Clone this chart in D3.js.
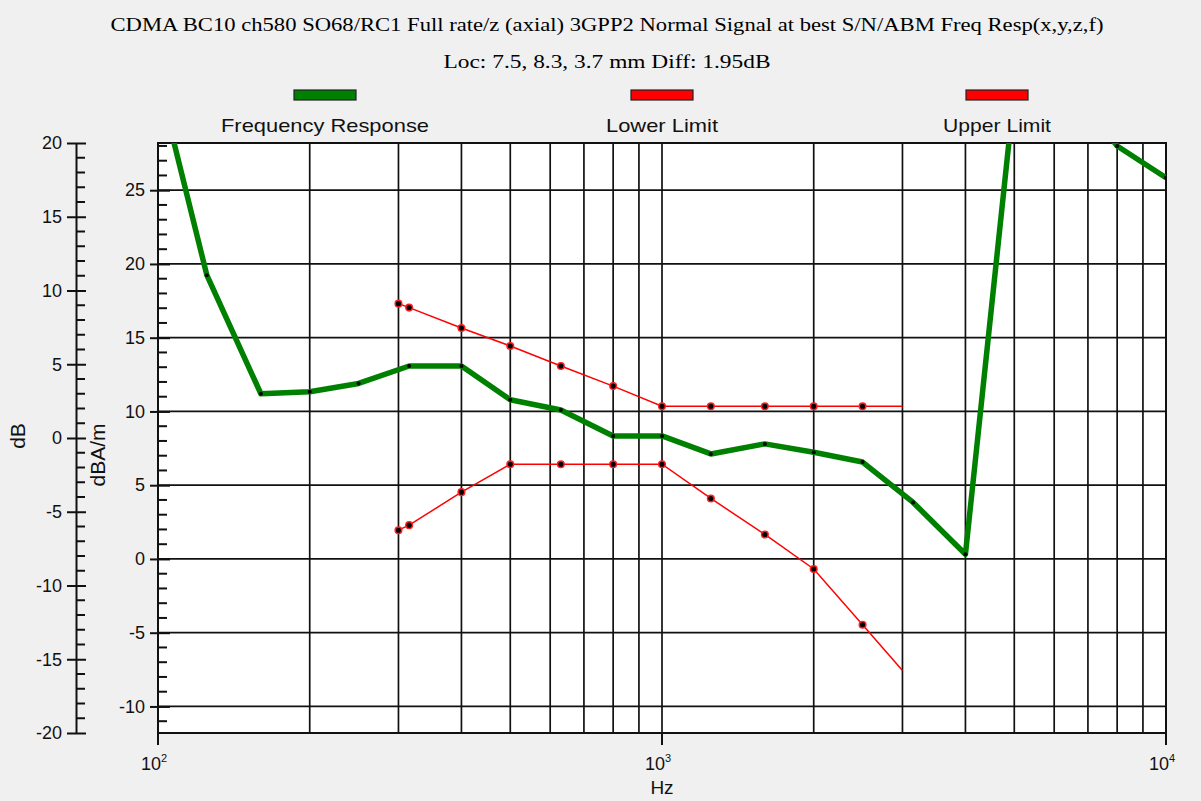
<!DOCTYPE html>
<html>
<head>
<meta charset="utf-8">
<script src="https://cdn.jsdelivr.net/npm/d3@7"></script>
<style>
  html, body { margin: 0; padding: 0; background: #f0f0f0; }
  svg { display: block; }
  .sans { font-family: "Liberation Sans", Arial, sans-serif; }
  .serif { font-family: "Liberation Serif", "Times New Roman", serif; }
</style>
</head>
<body>
<svg id="chart" width="1201" height="801"></svg>
<script>
// Titles and legend
const titleLines = [
  "CDMA BC10 ch580 SO68/RC1 Full rate/z (axial) 3GPP2 Normal Signal at best S/N/ABM Freq Resp(x,y,z,f)",
  "Loc: 7.5, 8.3, 3.7 mm Diff: 1.95dB"
];
const seriesNames = ["Frequency Response", "Lower Limit", "Upper Limit"];
const seriesColors = ["#008000", "#ff0000", "#ff0000"];

// Measured response, 1/3-octave bands (Hz, dB(A/m))
const responseFreqs = [100, 125, 160, 200, 250, 315, 400, 500, 630, 800, 1000,
                       1250, 1600, 2000, 2500, 3150, 4000, 5000, 6300, 8000, 10000];
const responseValues = [32.6, 19.24, 11.2, 11.33, 11.9, 13.08, 13.08, 10.79, 10.1, 8.34, 8.34,
                        7.12, 7.8, 7.23, 6.57, 3.83, 0.32, 31.7, 32.5, 28.0, 25.85];

// Mask limits (Hz, dB(A/m))
const limitFreqs = [300, 315, 400, 500, 630, 800, 1000, 1250, 1600, 2000, 2500, 3000];
const lowerLimit = [1.95, 2.29, 4.53, 6.42, 6.42, 6.42, 6.42, 4.1, 1.66, -0.68, -4.46, -7.57];
const upperLimit = [17.31, 17.04, 15.66, 14.44, 13.08, 11.72, 10.35, 10.35, 10.35, 10.35, 10.35, 10.35];

// Axis ticks
const dbTicks = [20, 15, 10, 5, 0, -5, -10, -15, -20];
const fieldTicks = [25, 20, 15, 10, 5, 0, -5, -10];
const decadeExponents = [2, 3, 4];
const dbAxisLabel = "dB";
const fieldAxisLabel = "dBA/m";
const xAxisLabel = "Hz";

// Offset between the relative dB scale and dB(A/m)
const dbOffset = 8.2;

const svg = d3.select("#chart");
const plot = { left: 158, right: 1166, top: 143, bottom: 733 };

const x = d3.scaleLog().domain([100, 10000]).range([plot.left, plot.right]);
const yDb = d3.scaleLinear().domain([-20, 20]).range([plot.bottom, plot.top]);
const yField = d3.scaleLinear().domain([-20 + dbOffset, 20 + dbOffset]).range([plot.bottom, plot.top]);
const plainNumber = d => String(d);

// Title
svg.selectAll("text.title").data(titleLines).join("text")
  .attr("class", "title serif")
  .attr("x", 607).attr("y", (d, i) => 31 + i * 37)
  .attr("text-anchor", "middle")
  .attr("font-size", 18)
  .attr("fill", "#000")
  .attr("textLength", (d, i) => i === 0 ? 993 : 327)
  .attr("lengthAdjust", "spacingAndGlyphs")
  .text(d => d);

// Legend
const legendX = [325, 662, 997];
const legendW = [208, 112, 108];
const lg = svg.selectAll("g.legend").data(seriesNames).join("g").attr("class", "legend");
lg.append("rect")
  .attr("x", (d, i) => legendX[i] - 31).attr("y", 90)
  .attr("width", 62).attr("height", 10)
  .attr("fill", (d, i) => seriesColors[i])
  .attr("stroke", "#222").attr("stroke-width", 1.2);
lg.append("text")
  .attr("class", "sans")
  .attr("x", (d, i) => legendX[i]).attr("y", 132)
  .attr("text-anchor", "middle")
  .attr("font-size", 19)
  .attr("fill", "#111")
  .attr("textLength", (d, i) => legendW[i])
  .attr("lengthAdjust", "spacingAndGlyphs")
  .text(d => d);

// Plot background
svg.append("rect")
  .attr("x", plot.left).attr("y", plot.top)
  .attr("width", plot.right - plot.left).attr("height", plot.bottom - plot.top)
  .attr("fill", "#fff");

// Grid
const gridFreqs = [];
[100, 1000].forEach(dec => { for (let k = 2; k <= 9; k++) gridFreqs.push(dec * k); });
gridFreqs.push(1000);
const grid = svg.append("g").attr("stroke", "#111").attr("stroke-width", 1.7);
grid.selectAll("line.v").data(gridFreqs).join("line")
  .attr("x1", d => x(d)).attr("x2", d => x(d))
  .attr("y1", plot.top).attr("y2", plot.bottom);
grid.selectAll("line.h").data(fieldTicks).join("line")
  .attr("x1", plot.left).attr("x2", plot.right)
  .attr("y1", d => yField(d)).attr("y2", d => yField(d));

// Border
svg.append("rect")
  .attr("x", plot.left).attr("y", plot.top)
  .attr("width", plot.right - plot.left).attr("height", plot.bottom - plot.top)
  .attr("fill", "none").attr("stroke", "#111").attr("stroke-width", 2);

// Clip for the data
svg.append("clipPath").attr("id", "plotClip").append("rect")
  .attr("x", plot.left).attr("y", plot.top)
  .attr("width", plot.right - plot.left).attr("height", plot.bottom - plot.top);

const dataG = svg.append("g").attr("clip-path", "url(#plotClip)");
const line = d3.line().x(d => x(d.f)).y(d => yField(d.v));

const response = responseFreqs.map((f, i) => ({ f, v: responseValues[i] }));
const lower = limitFreqs.map((f, i) => ({ f, v: lowerLimit[i] }));
const upper = limitFreqs.map((f, i) => ({ f, v: upperLimit[i] }));

[lower, upper].forEach(s => {
  dataG.append("path").datum(s)
    .attr("d", line).attr("fill", "none")
    .attr("stroke", "#ff0000").attr("stroke-width", 1.5);
  const pts = s.filter(d => d.f < 3000);
  dataG.selectAll(null).data(pts).join("circle")
    .attr("cx", d => x(d.f)).attr("cy", d => yField(d.v))
    .attr("r", 3.3).attr("fill", "#000")
    .attr("stroke", "#ff2020").attr("stroke-width", 1.5);
});

dataG.append("path").datum(response)
  .attr("d", line).attr("fill", "none")
  .attr("stroke", "#008000").attr("stroke-width", 5.5)
  .attr("stroke-linejoin", "round");
dataG.selectAll(null).data(response).join("circle")
  .attr("cx", d => x(d.f)).attr("cy", d => yField(d.v))
  .attr("r", 2).attr("fill", "#000");

// Outer relative dB axis
const dbAxisX = 76;
const dbAxis = svg.append("g").attr("transform", `translate(${dbAxisX},0)`)
  .call(d3.axisLeft(yDb).tickValues(dbTicks).tickFormat(plainNumber)
    .tickSize(9).tickSizeOuter(0).tickPadding(5));
dbAxis.attr("font-size", null).attr("font-family", null);
dbAxis.select(".domain").attr("stroke", "#111").attr("stroke-width", 2);
dbAxis.selectAll(".tick line").attr("stroke", "#111").attr("stroke-width", 2);
dbAxis.selectAll(".tick text").attr("class", "sans").attr("font-size", 18).attr("fill", "#111");
dbAxis.selectAll(".tick").append("line").attr("x1", 0).attr("x2", 10)
  .attr("stroke", "#111").attr("stroke-width", 2);
dbAxis.selectAll("line.minor").data(d3.range(-20, 21).filter(v => v % 5 !== 0)).join("line")
  .attr("class", "minor")
  .attr("x1", 0).attr("x2", 9)
  .attr("y1", d => yDb(d)).attr("y2", d => yDb(d))
  .attr("stroke", "#111").attr("stroke-width", 2);

// Inner dB(A/m) axis
const fieldAxis = svg.append("g").attr("transform", `translate(${plot.left},0)`)
  .call(d3.axisLeft(yField).tickValues(fieldTicks).tickFormat(plainNumber)
    .tickSize(8).tickSizeOuter(0).tickPadding(5));
fieldAxis.attr("font-size", null).attr("font-family", null);
fieldAxis.select(".domain").remove();
fieldAxis.selectAll(".tick line").attr("stroke", "#111").attr("stroke-width", 2);
fieldAxis.selectAll(".tick text").attr("class", "sans").attr("font-size", 18).attr("fill", "#111");
fieldAxis.selectAll(".tick").append("line").attr("x1", 0).attr("x2", 12)
  .attr("stroke", "#111").attr("stroke-width", 2);
const fieldMinor = d3.range(-11, 29).filter(v => v % 5 !== 0);
fieldAxis.selectAll("line.minor").data(fieldMinor).join("line")
  .attr("class", "minor")
  .attr("x1", 0).attr("x2", 9)
  .attr("y1", d => yField(d)).attr("y2", d => yField(d))
  .attr("stroke", "#111").attr("stroke-width", 2);

// Frequency axis
const xAxis = svg.append("g").attr("transform", `translate(0,${plot.bottom})`);
xAxis.selectAll("line").data(decadeExponents).join("line")
  .attr("x1", d => x(Math.pow(10, d))).attr("x2", d => x(Math.pow(10, d)))
  .attr("y1", 0).attr("y2", 12)
  .attr("stroke", "#111").attr("stroke-width", 2);
const xt = xAxis.selectAll("text").data(decadeExponents).join("text")
  .attr("class", "sans")
  .attr("x", d => x(Math.pow(10, d)) - 4).attr("y", 37)
  .attr("text-anchor", "middle")
  .attr("font-size", 18).attr("fill", "#111");
xt.append("tspan").text("10");
xt.append("tspan").attr("dy", -8).attr("font-size", 11).text(d => d);

svg.append("text").attr("class", "sans")
  .attr("x", x(1000)).attr("y", 794)
  .attr("text-anchor", "middle").attr("font-size", 19).attr("fill", "#111")
  .text(xAxisLabel);

// Axis titles
svg.append("text").attr("class", "sans")
  .attr("transform", "translate(25,436) rotate(-90)")
  .attr("text-anchor", "middle").attr("font-size", 21).attr("fill", "#111")
  .text(dbAxisLabel);
svg.append("text").attr("class", "sans")
  .attr("transform", "translate(105,455) rotate(-90)")
  .attr("text-anchor", "middle").attr("font-size", 21).attr("fill", "#111")
  .text(fieldAxisLabel);
</script>
</body>
</html>
